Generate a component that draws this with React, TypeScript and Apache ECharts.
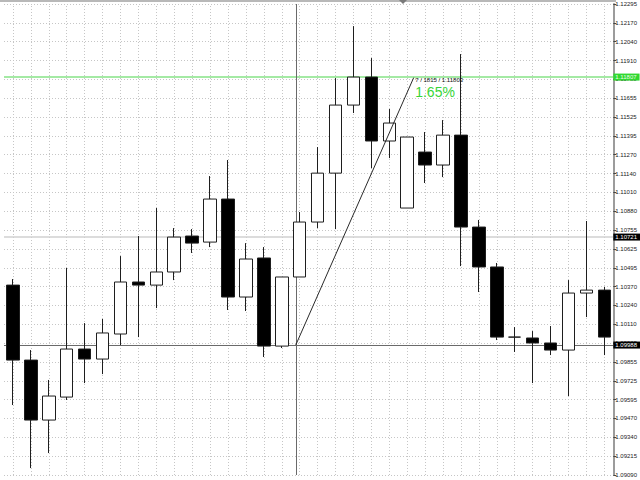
import React, { useEffect, useRef } from "react";
import * as echarts from "echarts";

// ---- data ----
const categories = [
  "1", "2", "3", "4", "5", "6", "7", "8", "9", "10", "11", "12",
  "13", "14", "15", "16", "17", "18", "19", "20", "21", "22", "23",
  "24", "25", "26", "27", "28", "29", "30", "31", "32", "33", "34",
];
const opens = [
  1.10395, 1.09886, 1.09479, 1.09635, 1.09961, 1.09893, 1.10063, 1.10416,
  1.10395, 1.10484, 1.10728, 1.10687, 1.10979, 1.10314, 1.10579, 1.09981,
  1.1045, 1.10823, 1.11155, 1.11617, 1.11807, 1.11373, 1.10918, 1.11298,
  1.1121, 1.11413, 1.10789, 1.10518, 1.10042, 1.10036, 1.10002, 1.09954,
  1.10341, 1.10361,
];
const closes = [
  1.09886, 1.09479, 1.09642, 1.09961, 1.09893, 1.1007, 1.10416, 1.10395,
  1.10484, 1.10721, 1.1068, 1.10979, 1.10314, 1.10572, 1.09981, 1.1045,
  1.10823, 1.11155, 1.11617, 1.11807, 1.11373, 1.11495, 1.114, 1.1121,
  1.11413, 1.10789, 1.10518, 1.10042, 1.10042, 1.10002, 1.09954, 1.10341,
  1.10361, 1.10042,
];
const lows = [
  1.09581, 1.09153, 1.09255, 1.09615, 1.0973, 1.09791, 1.09988, 1.10042,
  1.10239, 1.10429, 1.10613, 1.10653, 1.10226, 1.10219, 1.09907, 1.09968,
  1.1045, 1.10782, 1.10775, 1.11563, 1.11189, 1.11257, 1.10918, 1.11088,
  1.11128, 1.10524, 1.10348, 1.10022, 1.09941, 1.0973, 1.0992, 1.09642,
  1.10178, 1.0992,
];
const highs = [
  1.10436, 1.09954, 1.09751, 1.10511, 1.10137, 1.10165, 1.10592, 1.10728,
  1.10918, 1.10782, 1.10775, 1.11135, 1.11244, 1.1068, 1.10653, 1.1045,
  1.10891, 1.11332, 1.118, 1.12153, 1.11936, 1.1159, 1.114, 1.11434,
  1.11515, 1.11963, 1.10837, 1.10545, 1.1011, 1.10083, 1.10117, 1.10429,
  1.1083, 1.10382,
];
// right price scale labels, bottom to top
const tickLabels = [
  "1.09090", "1.09215", "1.09340", "1.09470", "1.09595", "1.09725",
  "1.09855", "1.09985", "1.10110", "1.10240", "1.10370", "1.10495",
  "1.10625", "1.10755", "1.10880", "1.11010", "1.11140", "1.11270",
  "1.11395", "1.11525", "1.11655", "1.11780", "1.11910", "1.12040",
  "1.12170", "1.12295",
];
const PRICE_MIN = 1.09106;
const PRICE_MAX = 1.12303;

// annotations
const greenLevel = 1.11807;
const greyLevel = 1.10721;
const crossPrice = 1.09988;
const crossX = 15.78; // fractional bar position of the crosshair
const measureEnd = [22.36, 1.11803];
const measureText = "7 / 1815 / 1.11803";
const percentText = "1.65%";

const boxLabel = (text: string, bg: string, fg: string) => ({
  show: true,
  position: "end",
  distance: 0,
  formatter: text,
  backgroundColor: bg,
  color: fg,
  fontSize: 6,
  padding: [1, 3, 0, 2],
  fontFamily: "Liberation Sans",
});

export default function App() {
  const ref = useRef<HTMLDivElement>(null);
  useEffect(() => {
    document.body.style.margin = "0";
    const chart = echarts.init(ref.current!, undefined, { renderer: "svg" });
    const candleData = opens.map((o, i) => [o, closes[i], lows[i], highs[i]]);
    const option: any = {
      animation: false,
      backgroundColor: "#ffffff",
      textStyle: { fontFamily: "Liberation Sans" },
      grid: { left: 4, right: 24, top: 4, bottom: 5, containLabel: false },
      xAxis: [
        {
          type: "category",
          data: categories,
          boundaryGap: true,
          axisLine: { show: false },
          axisTick: { show: false },
          axisLabel: { show: false },
          splitLine: { show: false },
        },
        {
          type: "value",
          min: -0.5,
          max: categories.length - 0.5,
          show: false,
          splitLine: { show: false },
        },
      ],
      yAxis: [
        { type: "value", min: PRICE_MIN, max: PRICE_MAX, show: false, splitLine: { show: false } },
        {
          type: "value",
          min: 0,
          max: tickLabels.length - 1,
          interval: 1,
          position: "right",
          axisLine: { show: true, lineStyle: { color: "#9c9c9c", width: 2 } },
          axisTick: { show: true, length: 3, lineStyle: { color: "#444" } },
          axisLabel: {
            fontSize: 6,
            color: "#222",
            margin: 2,
            showMinLabel: true,
            showMaxLabel: true,
            formatter: (v: number) => tickLabels[Math.round(v)],
          },
          splitLine: { show: true, lineStyle: { color: "#c6c6c6", type: [1, 2], width: 1 } },
        },
      ],
      series: [
        {
          type: "candlestick",
          xAxisIndex: 0,
          yAxisIndex: 0,
          data: candleData,
          barWidth: 13,
          z: 3,
          itemStyle: {
            color: "#ffffff",
            color0: "#000000",
            borderColor: "#1e1e1e",
            borderColor0: "#1e1e1e",
            borderWidth: 1,
          },
          markLine: {
            silent: true,
            symbol: "none",
            z: 1,
            label: { show: false },
            lineStyle: { color: "#c6c6c6", type: [1, 2], width: 1 },
            data: categories.map((c) => ({ xAxis: c })),
          },
        },
        {
          type: "line",
          xAxisIndex: 1,
          yAxisIndex: 0,
          data: [[crossX, crossPrice], measureEnd],
          symbol: "none",
          z: 4,
          lineStyle: { color: "#2a2a2a", width: 1 },
          markLine: {
            silent: true,
            symbol: "none",
            precision: 5,
            z: 2,
            data: [
              { yAxis: greenLevel, lineStyle: { color: "#86e386", width: 1.5, type: "solid" }, label: boxLabel("1.11807", "#30d830", "#eaffea") },
              { yAxis: greyLevel, lineStyle: { color: "#d0d0d0", width: 1.5, type: "solid" }, label: boxLabel("1.10721", "#000000", "#ffffff") },
              { yAxis: crossPrice, lineStyle: { color: "#6a6a6a", width: 1, type: "solid" }, label: boxLabel("1.09988", "#000000", "#ffffff") },
              { xAxis: crossX, lineStyle: { color: "#6a6a6a", width: 1, type: "solid" }, label: { show: false } },
            ],
          },
          markPoint: {
            silent: true,
            symbol: "circle",
            symbolSize: 1,
            itemStyle: { color: "rgba(0,0,0,0)" },
            data: [
              {
                coord: measureEnd,
                label: { show: true, position: [2, 0], formatter: measureText, fontSize: 6, color: "#111", align: "left", verticalAlign: "top" },
              },
              {
                coord: measureEnd,
                label: { show: true, position: [2, 8], formatter: percentText, fontSize: 14, color: "#38d438", align: "left", verticalAlign: "top" },
              },
            ],
          },
        },
      ],
      graphic: [
        { type: "rect", shape: { x: 0, y: 0, width: 616, height: 2 }, style: { fill: "#b8b8b8" }, silent: true },
        { type: "polygon", shape: { points: [[399, 0], [407, 0], [403, 4]] }, style: { fill: "#7a7a7a" }, silent: true },
      ],
    };
    chart.setOption(option);
    return () => chart.dispose();
  }, []);
  return <div ref={ref} style={{ width: 640, height: 480 }} />;
}
